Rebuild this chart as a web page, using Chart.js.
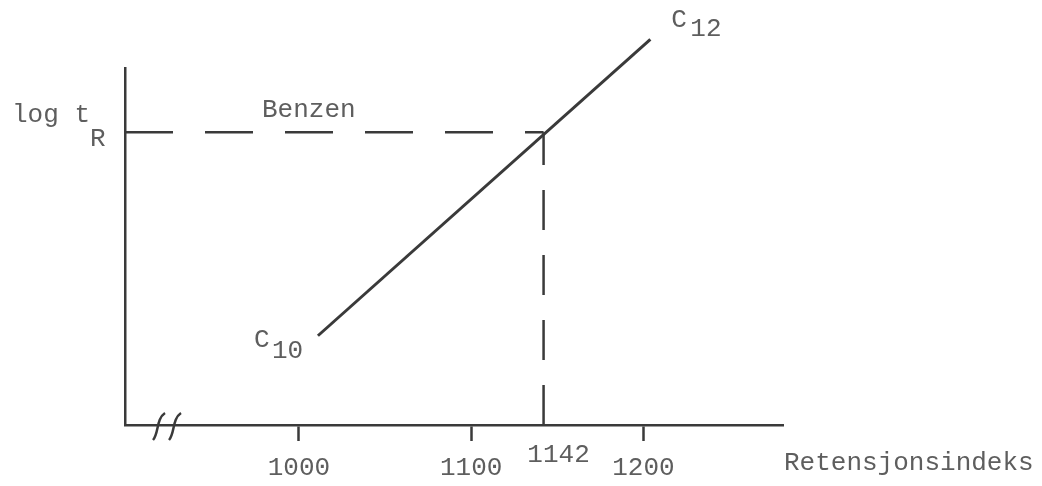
<!DOCTYPE html>
<html>
<head>
<meta charset="utf-8">
<script src="https://cdn.jsdelivr.net/npm/chart.js@4/dist/chart.umd.min.js"></script>
<style>
  html, body { margin: 0; padding: 0; background: #fff; }
  #wrap { width: 1042px; height: 486px; position: relative; }
</style>
</head>
<body>
<div id="wrap"><canvas id="retention"></canvas></div>
<script>
// alkan-linja C10 -> C12 (retensjonsindeks mot log tR, relativ skala)
var lineX = [1011, 1204];
var lineY = [25, 108];
var lineNames = ['C', 'C'];
var lineSubs = ['10', '12'];

// benzen
var benzenIndex = 1142;
var benzenLogTR = 82;

var xTicks = [1000, 1100, 1200];
var xMin = 899;
var xMax = 1281;
var yMin = 0;
var yMax = 100;

var ink = '#3a3a3a';
var typeInk = '#5e5e5e';
var typeFont = '26px "Liberation Mono", "DejaVu Sans Mono", monospace';

window.onload = function() {
  var ctx = document.getElementById('retention');

  var labelsPlugin = {
    id: 'typedLabels',
    afterDraw: function(chart) {
      var c = chart.ctx;
      var xs = chart.scales.x;
      var ys = chart.scales.y;
      c.save();
      c.font = typeFont;
      c.fillStyle = typeInk;
      c.textBaseline = 'middle';
      c.textAlign = 'left';

      // log tR
      var yb = ys.getPixelForValue(benzenLogTR);
      c.fillText('log t', 12, yb - 17);
      c.fillText('R', 12 + c.measureText('log t').width, yb + 7);

      // Benzen
      c.fillText('Benzen', 262, yb - 22);

      // C10 og C12
      var x0 = xs.getPixelForValue(lineX[0]);
      var y0 = ys.getPixelForValue(lineY[0]);
      c.fillText(lineNames[0], x0 - 64, y0 + 4);
      c.fillText(lineSubs[0], x0 - 46, y0 + 15);
      var x1 = xs.getPixelForValue(lineX[1]);
      var y1 = ys.getPixelForValue(lineY[1]);
      c.fillText(lineNames[1], x1 + 21, y1 - 19);
      c.fillText(lineSubs[1], x1 + 40, y1 - 10);

      // 1142 under den stiplede linja
      var yAx = ys.getPixelForValue(yMin);
      c.textAlign = 'center';
      c.fillText(String(benzenIndex), xs.getPixelForValue(benzenIndex) + 15, yAx + 30);

      // aksetittel
      c.textAlign = 'left';
      c.fillText('Retensjonsindeks', xs.right + 1, yAx + 38);

      // brudd-tegn paa x-aksen
      c.strokeStyle = ink;
      c.lineWidth = 2.5;
      [153, 169].forEach(function(bx) {
        c.beginPath();
        c.moveTo(bx, yAx + 15);
        c.bezierCurveTo(bx + 6, yAx + 8, bx + 3, yAx - 6, bx + 12, yAx - 12);
        c.stroke();
      });
      c.restore();
    }
  };

  var chart = new Chart(ctx, {
    type: 'line',
    data: {
      datasets: [
        {
          label: 'alkaner',
          data: lineX.map(function(v, i) { return { x: v, y: lineY[i] }; }),
          borderColor: ink,
          borderWidth: 3,
          pointRadius: 0,
          tension: 0,
          clip: false
        },
        {
          label: 'benzen horisontal',
          data: [{ x: xMin, y: benzenLogTR }, { x: benzenIndex, y: benzenLogTR }],
          borderColor: ink,
          borderWidth: 2.5,
          borderDash: [48, 32],
          pointRadius: 0,
          clip: false
        },
        {
          label: 'benzen vertikal',
          data: [{ x: benzenIndex, y: yMin }, { x: benzenIndex, y: benzenLogTR }],
          borderColor: ink,
          borderWidth: 2.5,
          borderDash: [40, 25],
          pointRadius: 0,
          clip: false
        }
      ]
    },
    options: {
      responsive: true,
      maintainAspectRatio: false,
      animation: false,
      layout: { padding: { left: 125, right: 259, top: 68, bottom: 0 } },
      plugins: {
        legend: { display: false },
        tooltip: { enabled: false }
      },
      scales: {
        x: {
          type: 'linear',
          min: xMin,
          max: xMax,
          afterBuildTicks: function(axis) {
            axis.ticks = xTicks.map(function(v) { return { value: v }; });
          },
          afterFit: function(axis) {
            axis.height = 61;
          },
          grid: {
            drawOnChartArea: false,
            drawTicks: true,
            tickLength: 16,
            tickWidth: 2.5,
            tickColor: ink
          },
          border: { display: true, color: ink, width: 2.5 },
          ticks: {
            color: typeInk,
            font: { family: '"Liberation Mono", "DejaVu Sans Mono", monospace', size: 26 },
            padding: 12,
            maxRotation: 0,
            autoSkip: false,
            callback: function(v) { return String(v); }
          }
        },
        y: {
          type: 'linear',
          min: yMin,
          max: yMax,
          grid: { display: false, drawTicks: false },
          border: { display: true, color: ink, width: 2.5 },
          ticks: { display: false }
        }
      }
    },
    plugins: [labelsPlugin]
  });

  console.log('chart area', chart.chartArea);
};
</script>
</body>
</html>
